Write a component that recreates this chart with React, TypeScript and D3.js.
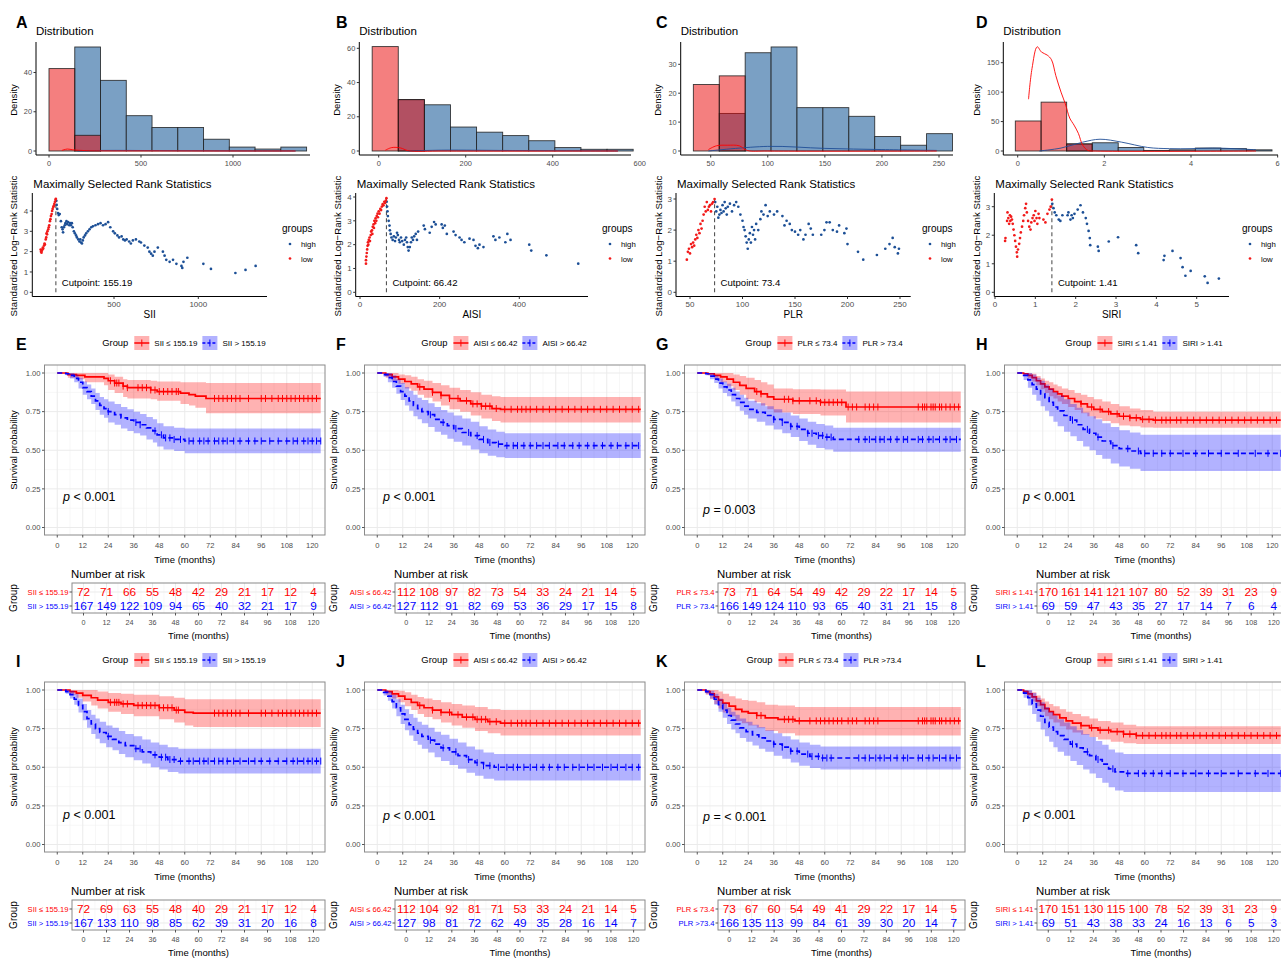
import * as d3 from 'd3';
import React from 'react';

const FONT = '"Liberation Sans", Arial, Helvetica, sans-serif';
const TICK_TXT = '#4d4d4d';
const RED = '#ff0000';
const BLUE = '#0000ff';
const HIGH_DOT = '#1c4f96';
const LOW_DOT = '#f21a1a';
const HIST_BLUE = '#7aa0c4';

// ---- top row: distributions ----
const siiBreaks = [0, 140, 280, 420, 560, 700, 840, 980, 1120, 1260, 1400];
const siiHistLow = [42, 8, 0, 0, 0, 0, 0, 0, 0, 0];
const siiHistHigh = [0, 53, 36, 18, 12, 12, 6, 2, 1, 2];
const siiDensLow = [[70, 0.3], [100, 1], [130, 0.6], [200, 0.2], [600, 0.05], [1340, 0]];
const siiDensHigh = [[155, 0], [300, 0.3], [600, 0.2], [1000, 0.05], [1340, 0]];

const aisiBreaks = [-15, 45, 105, 165, 225, 285, 345, 405, 465, 525, 585];
const aisiHistLow = [61, 30, 0, 0, 0, 0, 0, 0, 0, 0];
const aisiHistHigh = [0, 30, 27, 14, 11, 9, 6, 2, 1, 1];
const aisiDensLow = [[15, 0.4], [30, 2], [50, 1.8], [68, 0.2], [150, 0], [550, 0]];
const aisiDensHigh = [[66, 0], [150, 0.5], [300, 0.3], [550, 0]];

const plrBreaks = [34.8, 57.5, 80.2, 102.9, 125.6, 148.3, 171, 193.7, 216.4, 239.1, 261.8];
const plrHistLow = [23, 26, 0, 0, 0, 0, 0, 0, 0, 0];
const plrHistHigh = [0, 13, 34, 36, 15, 15, 12, 5, 2, 6];
const plrDensLow = [[48, 0.5], [55, 1.8], [65, 2], [75, 1.8], [82, 0.2], [100, 0], [248, 0]];
const plrDensHigh = [[48, 0], [100, 1.6], [150, 0.9], [200, 0.5], [248, 0.2]];

const siriBreaks = [-0.055, 0.54, 1.13, 1.72, 2.32, 2.91, 3.5, 4.1, 4.69, 5.28, 5.87];
const siriHistLow = [51, 83, 12, 0, 0, 0, 0, 0, 0, 0];
const siriHistHigh = [0, 0, 12, 14, 6, 1, 2, 5, 4, 2];
const siriDensLow = [[0.25, 88], [0.33, 140], [0.45, 177], [0.55, 168], [0.68, 163], [0.78, 155], [0.88, 128], [1.0, 100], [1.1, 80], [1.2, 56], [1.3, 44], [1.4, 30], [1.5, 10], [1.62, 1], [1.8, 0], [5.5, 0]];
const siriDensHigh = [[0.5, 0], [1.0, 5], [1.5, 15], [1.9, 20], [2.4, 15], [3.0, 6], [3.5, 4], [4.0, 4], [4.5, 5], [5.0, 4], [5.5, 2]];

// ---- top row: maximally selected rank statistics ----
const siiStatLow = [[65, 2.1], [67, 2.0], [70, 1.95], [72, 2.05], [75, 2.1], [78, 2.2], [80, 2.15], [85, 2.3], [88, 2.4], [90, 2.35], [95, 2.6], [98, 2.7], [100, 2.9], [103, 2.85], [105, 3.0], [110, 3.1], [113, 3.2], [116, 3.3], [120, 3.5], [123, 3.6], [126, 3.75], [130, 3.85], [133, 4.0], [136, 4.1], [140, 4.2], [143, 4.25], [146, 4.35], [150, 4.45], [153, 4.55], [155, 4.6]];
const siiStatHigh = [[158, 4.5], [160, 4.3], [163, 4.1], [168, 3.9], [172, 3.8], [178, 3.85], [185, 3.5], [190, 3.2], [195, 3.1], [198, 2.95], [203, 3.2], [208, 3.3], [212, 3.4], [218, 3.5], [222, 3.35], [228, 3.45], [235, 3.3], [240, 3.4], [245, 3.3], [250, 3.4], [255, 3.2], [262, 3.0], [268, 2.9], [275, 2.8], [280, 2.7], [288, 2.6], [295, 2.5], [300, 2.6], [305, 2.45], [310, 2.4], [315, 2.55], [320, 2.7], [328, 2.8], [335, 2.9], [345, 3.0], [355, 3.1], [365, 3.2], [375, 3.25], [390, 3.3], [405, 3.35], [420, 3.4], [435, 3.3], [450, 3.35], [465, 3.45], [478, 3.2], [495, 3.0], [505, 2.9], [520, 2.8], [530, 2.7], [545, 2.75], [555, 2.6], [565, 2.55], [575, 2.6], [590, 2.5], [600, 2.4], [612, 2.55], [630, 2.6], [650, 2.5], [660, 2.45], [680, 2.3], [700, 2.2], [710, 2.0], [720, 1.9], [730, 1.8], [740, 2.0], [760, 2.2], [790, 2.0], [800, 1.8], [810, 1.6], [830, 1.5], [850, 1.6], [870, 1.4], [900, 1.3], [905, 1.2], [912, 1.5], [935, 1.7], [1030, 1.4], [1075, 1.15], [1220, 0.95], [1280, 1.1], [1340, 1.3]];

const aisiStatLow = [[15, 1.2], [15, 1.35], [16, 1.5], [17, 1.65], [18, 1.8], [19, 1.95], [20, 2.1], [21, 2.0], [22, 2.2], [24, 2.3], [25, 2.15], [27, 2.4], [28, 2.55], [30, 2.6], [31, 2.45], [32, 2.75], [34, 2.85], [35, 2.7], [36, 3.0], [38, 2.9], [39, 3.1], [41, 3.0], [42, 3.2], [44, 3.3], [45, 3.15], [47, 3.4], [49, 3.3], [51, 3.5], [53, 3.45], [55, 3.6], [57, 3.7], [59, 3.65], [61, 3.8], [63, 3.75], [65, 3.85], [66.4, 3.95]];
const aisiStatHigh = [[67, 3.8], [68, 3.6], [69, 3.4], [70, 3.2], [72, 3.0], [74, 2.8], [75, 2.6], [77, 2.45], [79, 2.3], [82, 2.2], [85, 2.35], [88, 2.15], [90, 2.3], [93, 2.5], [95, 2.4], [98, 2.2], [100, 2.1], [103, 2.3], [106, 2.15], [110, 2.0], [113, 2.2], [116, 2.3], [118, 2.1], [120, 1.9], [122, 1.75], [125, 1.9], [128, 2.1], [130, 2.3], [133, 2.2], [136, 2.35], [140, 2.45], [143, 2.2], [146, 2.55], [160, 2.8], [163, 2.65], [175, 2.5], [180, 2.75], [186, 2.95], [190, 2.85], [205, 2.85], [208, 2.7], [213, 2.8], [218, 2.45], [235, 2.55], [240, 2.4], [250, 2.3], [255, 2.2], [262, 2.1], [275, 2.25], [285, 2.2], [290, 1.95], [296, 1.85], [300, 2.0], [310, 1.9], [335, 2.35], [340, 2.2], [350, 2.3], [365, 2.1], [370, 2.45], [378, 2.2], [425, 2.0], [430, 1.75], [468, 1.55], [548, 1.2]];

const plrStatLow = [[47, 1.05], [48, 1.3], [49, 1.4], [50, 1.25], [51, 1.55], [52, 1.45], [53, 1.6], [54, 1.5], [55, 1.7], [56, 1.85], [57, 1.75], [58, 2.0], [59, 1.9], [60, 2.2], [61, 2.05], [62, 2.3], [63, 2.5], [64, 2.75], [65, 2.6], [66, 2.9], [67, 2.65], [68, 2.75], [69, 2.8], [70, 2.6], [71, 2.85], [72, 2.9], [73.4, 3.0]];
const plrStatHigh = [[74, 2.9], [75, 2.6], [76, 2.75], [77, 2.4], [78, 2.5], [79, 2.65], [80, 2.55], [81, 2.8], [82, 2.6], [83, 2.9], [84, 2.7], [85, 2.5], [86, 2.75], [88, 2.85], [90, 2.6], [92, 2.8], [94, 2.9], [96, 2.75], [98, 2.5], [100, 2.3], [101, 2.1], [102, 2.0], [103, 1.8], [104, 1.6], [105, 1.4], [106, 1.7], [107, 1.9], [108, 1.6], [109, 2.1], [110, 1.85], [111, 2.0], [112, 1.7], [113, 2.2], [115, 2.0], [117, 2.35], [118, 2.6], [120, 2.5], [122, 2.8], [124, 2.45], [126, 2.6], [130, 2.5], [133, 2.6], [138, 2.45], [140, 2.15], [142, 2.3], [145, 2.2], [147, 2.0], [150, 1.95], [153, 1.85], [155, 2.0], [158, 1.7], [160, 1.85], [163, 2.2], [165, 2.05], [167, 1.85], [175, 1.85], [178, 2.0], [180, 2.25], [183, 2.25], [186, 2.0], [190, 1.95], [192, 2.15], [197, 1.9], [199, 2.05], [200, 1.55], [210, 1.3], [215, 1.05], [228, 1.2], [236, 1.4], [240, 1.55], [243, 1.75], [245, 1.45], [248, 1.25], [249, 1.4]];

const siriStatLow = [[0.25, 1.8], [0.26, 1.9], [0.3, 2.5], [0.31, 2.8], [0.33, 2.6], [0.35, 2.4], [0.37, 2.7], [0.38, 2.5], [0.4, 2.65], [0.42, 2.55], [0.44, 2.4], [0.46, 2.2], [0.48, 2.0], [0.5, 1.8], [0.52, 1.6], [0.54, 1.4], [0.55, 1.25], [0.57, 1.5], [0.6, 1.7], [0.62, 1.9], [0.64, 2.1], [0.67, 2.3], [0.7, 2.5], [0.72, 2.7], [0.75, 2.95], [0.77, 3.1], [0.79, 2.8], [0.82, 2.5], [0.85, 2.3], [0.88, 2.2], [0.9, 2.45], [0.93, 2.6], [0.96, 2.7], [0.98, 2.5], [1.0, 2.85], [1.03, 2.6], [1.05, 2.4], [1.08, 2.75], [1.1, 2.6], [1.2, 2.55], [1.25, 2.45], [1.3, 2.75], [1.35, 2.9], [1.38, 3.0], [1.41, 3.25]];
const siriStatHigh = [[1.42, 3.1], [1.45, 2.95], [1.48, 2.8], [1.52, 2.7], [1.58, 2.55], [1.62, 2.5], [1.67, 2.7], [1.8, 2.7], [1.82, 2.8], [1.87, 2.55], [1.9, 2.7], [1.93, 2.6], [1.97, 2.75], [2.05, 2.9], [2.12, 3.05], [2.18, 2.8], [2.25, 2.6], [2.28, 2.4], [2.32, 2.15], [2.35, 1.9], [2.36, 1.65], [2.55, 1.6], [2.57, 1.45], [2.82, 1.78], [3.05, 1.93], [3.5, 1.65], [3.55, 1.37], [4.18, 1.13], [4.2, 1.28], [4.4, 1.45], [4.6, 1.2], [4.65, 0.88], [4.72, 0.58], [4.85, 0.75], [5.2, 0.56], [5.27, 0.33], [5.55, 0.48]];

// ---- Kaplan-Meier curves: [time, surv, lower, upper] ----
const kmE_low = [[0, 1, 1, 1], [5, 0.99, 0.97, 1], [9, 0.985, 0.96, 1], [13, 0.975, 0.94, 1], [22, 0.965, 0.92, 1], [24, 0.95, 0.89, 0.99], [27, 0.935, 0.87, 0.975], [31, 0.915, 0.845, 0.96], [33, 0.905, 0.835, 0.955], [44, 0.89, 0.83, 0.95], [47, 0.88, 0.82, 0.945], [58, 0.87, 0.8, 0.94], [62, 0.86, 0.79, 0.94], [65, 0.85, 0.775, 0.94], [70, 0.835, 0.74, 0.935]];
const kmE_high = [[0, 1, 1, 1], [4, 0.995, 0.985, 1], [6, 0.985, 0.965, 1], [8, 0.965, 0.94, 0.99], [10, 0.94, 0.9, 0.97], [12, 0.905, 0.86, 0.945], [14, 0.88, 0.83, 0.925], [16, 0.85, 0.8, 0.9], [18, 0.82, 0.76, 0.87], [20, 0.79, 0.73, 0.845], [22, 0.77, 0.71, 0.83], [24, 0.75, 0.68, 0.815], [27, 0.73, 0.665, 0.8], [30, 0.71, 0.64, 0.78], [33, 0.695, 0.625, 0.765], [36, 0.68, 0.61, 0.75], [39, 0.665, 0.595, 0.735], [42, 0.645, 0.57, 0.715], [45, 0.625, 0.55, 0.7], [47, 0.6, 0.525, 0.675], [50, 0.58, 0.505, 0.655], [55, 0.57, 0.495, 0.645], [60, 0.56, 0.48, 0.64]];
const kmF_low = [[0, 1, 1, 1], [4, 0.99, 0.97, 1], [7, 0.975, 0.95, 1], [10, 0.96, 0.93, 0.99], [13, 0.945, 0.9, 0.985], [16, 0.93, 0.885, 0.975], [19, 0.91, 0.86, 0.96], [22, 0.895, 0.84, 0.95], [26, 0.875, 0.815, 0.935], [30, 0.855, 0.79, 0.92], [34, 0.835, 0.765, 0.905], [39, 0.82, 0.75, 0.89], [44, 0.8, 0.725, 0.875], [49, 0.785, 0.705, 0.86], [54, 0.77, 0.69, 0.85], [58, 0.765, 0.68, 0.845]];
const kmF_high = [[0, 1, 1, 1], [3, 0.99, 0.975, 1], [5, 0.97, 0.94, 1], [7, 0.945, 0.905, 0.985], [9, 0.915, 0.865, 0.96], [11, 0.88, 0.825, 0.935], [13, 0.85, 0.79, 0.91], [15, 0.82, 0.755, 0.885], [17, 0.79, 0.72, 0.86], [19, 0.77, 0.7, 0.84], [21, 0.75, 0.675, 0.825], [24, 0.73, 0.65, 0.805], [27, 0.7, 0.62, 0.78], [30, 0.68, 0.6, 0.76], [33, 0.66, 0.575, 0.745], [36, 0.64, 0.555, 0.725], [40, 0.615, 0.53, 0.705], [44, 0.595, 0.505, 0.685], [48, 0.57, 0.48, 0.655], [52, 0.55, 0.465, 0.635], [56, 0.54, 0.455, 0.62], [60, 0.53, 0.45, 0.61]];
const kmG_low = [[0, 1, 1, 1], [5, 0.995, 0.985, 1], [8, 0.985, 0.96, 1], [11, 0.975, 0.94, 1], [14, 0.96, 0.915, 1], [17, 0.94, 0.89, 0.99], [20, 0.92, 0.86, 0.98], [23, 0.9, 0.83, 0.97], [27, 0.88, 0.81, 0.955], [30, 0.865, 0.79, 0.94], [33, 0.845, 0.765, 0.925], [36, 0.83, 0.745, 0.9], [45, 0.82, 0.735, 0.895], [58, 0.81, 0.725, 0.893], [70, 0.78, 0.68, 0.88]];
const kmG_high = [[0, 1, 1, 1], [4, 0.995, 0.985, 1], [6, 0.98, 0.96, 1], [8, 0.96, 0.935, 0.985], [10, 0.935, 0.9, 0.965], [12, 0.91, 0.87, 0.945], [14, 0.89, 0.85, 0.93], [16, 0.86, 0.815, 0.905], [18, 0.835, 0.785, 0.88], [20, 0.81, 0.755, 0.86], [22, 0.785, 0.73, 0.84], [24, 0.765, 0.705, 0.82], [28, 0.745, 0.685, 0.805], [32, 0.725, 0.66, 0.785], [36, 0.7, 0.635, 0.765], [40, 0.68, 0.61, 0.745], [44, 0.655, 0.585, 0.725], [48, 0.635, 0.56, 0.705], [52, 0.61, 0.535, 0.685], [56, 0.595, 0.515, 0.67], [60, 0.585, 0.505, 0.66], [64, 0.57, 0.49, 0.645]];
const kmH_low = [[0, 1, 1, 1], [3, 0.995, 0.985, 1], [5, 0.985, 0.965, 1], [7, 0.97, 0.945, 0.995], [9, 0.95, 0.92, 0.98], [11, 0.93, 0.895, 0.965], [13, 0.91, 0.87, 0.95], [15, 0.895, 0.85, 0.94], [17, 0.88, 0.835, 0.925], [19, 0.865, 0.815, 0.915], [21, 0.85, 0.8, 0.9], [24, 0.835, 0.78, 0.89], [27, 0.815, 0.76, 0.87], [30, 0.8, 0.74, 0.86], [33, 0.78, 0.72, 0.845], [36, 0.765, 0.705, 0.83], [40, 0.75, 0.69, 0.815], [44, 0.735, 0.675, 0.8], [48, 0.72, 0.66, 0.785], [53, 0.71, 0.655, 0.77], [58, 0.7, 0.648, 0.76], [64, 0.695, 0.645, 0.75]];
const kmH_high = [[0, 1, 1, 1], [3, 0.985, 0.955, 1], [5, 0.955, 0.905, 1], [7, 0.925, 0.86, 0.99], [9, 0.895, 0.82, 0.97], [11, 0.865, 0.785, 0.95], [13, 0.84, 0.755, 0.925], [15, 0.81, 0.72, 0.9], [17, 0.78, 0.685, 0.875], [19, 0.755, 0.655, 0.855], [22, 0.725, 0.62, 0.83], [25, 0.695, 0.59, 0.8], [28, 0.665, 0.56, 0.775], [31, 0.635, 0.525, 0.745], [34, 0.61, 0.5, 0.72], [37, 0.585, 0.47, 0.7], [40, 0.56, 0.445, 0.675], [44, 0.53, 0.415, 0.65], [48, 0.51, 0.395, 0.63], [53, 0.495, 0.38, 0.615], [58, 0.48, 0.365, 0.6]];
const kmI_low = [[0, 1, 1, 1], [6, 0.99, 0.97, 1], [9, 0.98, 0.95, 1], [12, 0.965, 0.925, 1], [16, 0.95, 0.9, 1], [19, 0.935, 0.88, 0.99], [24, 0.92, 0.86, 0.98], [30, 0.91, 0.845, 0.975], [36, 0.9, 0.83, 0.97], [48, 0.885, 0.81, 0.96], [55, 0.87, 0.79, 0.95], [60, 0.855, 0.77, 0.94], [64, 0.85, 0.76, 0.94]];
const kmI_high = [[0, 1, 1, 1], [4, 0.99, 0.975, 1], [6, 0.97, 0.945, 0.995], [8, 0.94, 0.905, 0.975], [10, 0.9, 0.855, 0.945], [12, 0.86, 0.805, 0.91], [14, 0.815, 0.755, 0.87], [16, 0.78, 0.715, 0.84], [18, 0.75, 0.685, 0.815], [20, 0.725, 0.655, 0.795], [23, 0.7, 0.63, 0.77], [26, 0.68, 0.61, 0.755], [29, 0.66, 0.585, 0.735], [32, 0.64, 0.565, 0.715], [36, 0.62, 0.545, 0.7], [40, 0.6, 0.525, 0.68], [44, 0.58, 0.5, 0.66], [48, 0.565, 0.485, 0.645], [52, 0.55, 0.47, 0.63], [57, 0.54, 0.46, 0.62]];
const kmJ_low = [[0, 1, 1, 1], [4, 0.99, 0.97, 1], [7, 0.975, 0.945, 1], [10, 0.96, 0.92, 0.995], [13, 0.94, 0.895, 0.985], [16, 0.92, 0.87, 0.97], [19, 0.9, 0.845, 0.955], [22, 0.885, 0.825, 0.945], [26, 0.87, 0.81, 0.935], [30, 0.855, 0.79, 0.92], [35, 0.84, 0.77, 0.91], [40, 0.825, 0.755, 0.9], [46, 0.81, 0.735, 0.89], [52, 0.795, 0.72, 0.875], [58, 0.785, 0.705, 0.87]];
const kmJ_high = [[0, 1, 1, 1], [3, 0.985, 0.965, 1], [5, 0.96, 0.93, 0.99], [7, 0.925, 0.88, 0.97], [9, 0.885, 0.83, 0.94], [11, 0.845, 0.78, 0.905], [13, 0.81, 0.74, 0.875], [15, 0.775, 0.705, 0.845], [17, 0.745, 0.67, 0.82], [19, 0.72, 0.645, 0.795], [21, 0.7, 0.62, 0.775], [24, 0.675, 0.595, 0.755], [27, 0.65, 0.565, 0.73], [30, 0.625, 0.54, 0.71], [34, 0.6, 0.515, 0.685], [38, 0.575, 0.49, 0.66], [42, 0.55, 0.465, 0.635], [46, 0.53, 0.445, 0.615], [50, 0.51, 0.425, 0.595], [55, 0.5, 0.415, 0.585]];
const kmK_low = [[0, 1, 1, 1], [4, 0.99, 0.97, 1], [6, 0.975, 0.94, 1], [8, 0.955, 0.91, 1], [10, 0.935, 0.88, 0.99], [12, 0.915, 0.855, 0.975], [15, 0.895, 0.83, 0.96], [18, 0.875, 0.8, 0.945], [21, 0.86, 0.785, 0.935], [24, 0.85, 0.77, 0.93], [28, 0.835, 0.755, 0.92], [32, 0.82, 0.735, 0.905], [38, 0.81, 0.72, 0.9], [46, 0.8, 0.705, 0.89]];
const kmK_high = [[0, 1, 1, 1], [4, 0.99, 0.975, 1], [6, 0.97, 0.945, 0.995], [8, 0.94, 0.905, 0.975], [10, 0.905, 0.86, 0.945], [12, 0.87, 0.82, 0.915], [14, 0.835, 0.78, 0.885], [16, 0.805, 0.745, 0.86], [18, 0.78, 0.72, 0.84], [20, 0.755, 0.69, 0.815], [23, 0.73, 0.665, 0.795], [26, 0.71, 0.64, 0.775], [29, 0.69, 0.62, 0.76], [32, 0.67, 0.6, 0.74], [36, 0.65, 0.575, 0.72], [40, 0.63, 0.555, 0.7], [44, 0.605, 0.53, 0.68], [48, 0.585, 0.51, 0.66], [53, 0.57, 0.495, 0.645], [58, 0.56, 0.485, 0.635]];
const kmL_low = [[0, 1, 1, 1], [3, 0.99, 0.975, 1], [5, 0.975, 0.95, 0.995], [7, 0.955, 0.925, 0.985], [9, 0.93, 0.895, 0.965], [11, 0.905, 0.86, 0.945], [13, 0.88, 0.83, 0.925], [15, 0.86, 0.81, 0.91], [17, 0.84, 0.79, 0.895], [20, 0.82, 0.765, 0.875], [23, 0.8, 0.745, 0.86], [26, 0.785, 0.725, 0.845], [30, 0.77, 0.71, 0.83], [34, 0.755, 0.695, 0.815], [38, 0.74, 0.68, 0.8], [44, 0.73, 0.665, 0.79], [50, 0.715, 0.655, 0.775], [56, 0.705, 0.65, 0.765]];
const kmL_high = [[0, 1, 1, 1], [3, 0.98, 0.95, 1], [5, 0.95, 0.9, 1], [7, 0.91, 0.845, 0.98], [9, 0.87, 0.795, 0.95], [11, 0.83, 0.745, 0.92], [13, 0.79, 0.7, 0.89], [15, 0.76, 0.665, 0.86], [17, 0.73, 0.63, 0.835], [19, 0.705, 0.6, 0.81], [22, 0.68, 0.575, 0.79], [25, 0.65, 0.54, 0.765], [28, 0.625, 0.515, 0.74], [31, 0.6, 0.485, 0.715], [34, 0.575, 0.46, 0.695], [37, 0.55, 0.43, 0.67], [40, 0.52, 0.4, 0.645], [43, 0.49, 0.37, 0.615], [46, 0.47, 0.35, 0.595], [50, 0.46, 0.34, 0.585]];

// censoring times (months)
const siiLowCens = [25, 27, 28, 29, 31, 33, 38, 40, 42, 44, 46, 48, 50, 52, 54, 56, 57, 74, 76, 78, 80, 82, 84, 86, 90, 96, 98, 101, 104, 106, 108, 110, 112, 114, 116, 118, 120, 122];
const siiHighCens = [24, 37, 39, 46, 49, 51, 53, 55, 58, 62, 64, 67, 69, 71, 74, 76, 78, 80, 83, 86, 90, 93, 96, 100, 104, 108, 111, 113, 116, 118, 120, 122, 124];
const aisiLowCens = [20, 26, 30, 34, 38, 42, 45, 47, 49, 51, 53, 56, 60, 63, 66, 68, 70, 72, 75, 78, 81, 84, 87, 90, 93, 96, 99, 102, 105, 108, 111, 114, 117, 120, 123];
const aisiHighCens = [25, 31, 37, 43, 47, 50, 53, 57, 61, 64, 66, 69, 72, 75, 78, 81, 85, 88, 92, 95, 99, 102, 106, 110, 113, 117, 120, 123];
const plrLowCens = [28, 30, 41, 43, 45, 48, 53, 56, 58, 60, 62, 64, 66, 68, 71, 73, 75, 79, 81, 83, 85, 104, 106, 107, 108, 110, 111, 112, 114, 115, 117, 119, 121, 123];
const plrHighCens = [36, 40, 44, 47, 52, 54, 57, 59, 61, 63, 76, 79, 81, 84, 86, 88, 91, 94, 97, 99, 104, 106, 109, 111, 114, 117, 119, 122];
const siriLowCens = [30, 35, 39, 43, 47, 50, 53, 56, 59, 62, 65, 68, 70, 72, 75, 77, 80, 83, 86, 89, 92, 95, 98, 101, 104, 107, 110, 113, 116, 119, 122];
const siriHighCens = [26, 33, 38, 45, 52, 57, 60, 64, 68, 72, 78, 84, 90, 96, 104, 112, 118, 124];

// numbers at risk
const riskTimes = [0, 12, 24, 36, 48, 60, 72, 84, 96, 108, 120];
const riskE_low = [72, 71, 66, 55, 48, 42, 29, 21, 17, 12, 4];
const riskE_high = [167, 149, 122, 109, 94, 65, 40, 32, 21, 17, 9];
const riskF_low = [112, 108, 97, 82, 73, 54, 33, 24, 21, 14, 5];
const riskF_high = [127, 112, 91, 82, 69, 53, 36, 29, 17, 15, 8];
const riskG_low = [73, 71, 64, 54, 49, 42, 29, 22, 17, 14, 5];
const riskG_high = [166, 149, 124, 110, 93, 65, 40, 31, 21, 15, 8];
const riskH_low = [170, 161, 141, 121, 107, 80, 52, 39, 31, 23, 9];
const riskH_high = [69, 59, 47, 43, 35, 27, 17, 14, 7, 6, 4];
const riskI_low = [72, 69, 63, 55, 48, 40, 29, 21, 17, 12, 4];
const riskI_high = [167, 133, 110, 98, 85, 62, 39, 31, 20, 16, 8];
const riskJ_low = [112, 104, 92, 81, 71, 53, 33, 24, 21, 14, 5];
const riskJ_high = [127, 98, 81, 72, 62, 49, 35, 28, 16, 14, 7];
const riskK_low = [73, 67, 60, 54, 49, 41, 29, 22, 17, 14, 5];
const riskK_high = [166, 135, 113, 99, 84, 61, 39, 30, 20, 14, 7];
const riskL_low = [170, 151, 130, 115, 100, 78, 52, 39, 31, 23, 9];
const riskL_high = [69, 51, 43, 38, 33, 24, 16, 13, 6, 5, 3];

const histPanels = [
  { id: 'A', col: 0, breaks: siiBreaks, low: siiHistLow, high: siiHistHigh, dLow: siiDensLow, dHigh: siiDensHigh, left: 36, right: 310, xRef: [0, 49, 1000, 233], yRef: [0, 151, 40, 72.5], xTicks: [0, 500, 1000], yTicks: [0, 20, 40], densX: 16.7 },
  { id: 'B', col: 1, breaks: aisiBreaks, low: aisiHistLow, high: aisiHistHigh, dLow: aisiDensLow, dHigh: aisiDensHigh, left: 359.3, right: 631, xRef: [0, 378.7, 400, 552.7], yRef: [0, 151, 60, 48.3], xTicks: [0, 200, 400, 600], yTicks: [0, 20, 40, 60], densX: 340 },
  { id: 'C', col: 2, breaks: plrBreaks, low: plrHistLow, high: plrHistHigh, dLow: plrDensLow, dHigh: plrDensHigh, left: 680.7, right: 953, xRef: [50, 710.7, 250, 939], yRef: [0, 151, 30, 64.3], xTicks: [50, 100, 150, 200, 250], yTicks: [0, 10, 20, 30], densX: 660.7 },
  { id: 'D', col: 3, breaks: siriBreaks, low: siriHistLow, high: siriHistHigh, dLow: siriDensLow, dHigh: siriDensHigh, left: 1003.3, right: 1278, xRef: [0, 1017.7, 4, 1191], yRef: [0, 151, 150, 62.7], xTicks: [0, 2, 4, 6], yTicks: [0, 50, 100, 150], densX: 980 },
];

const statPanels = [
  { col: 0, name: 'SII', low: siiStatLow, high: siiStatHigh, cut: 155.19, left: 32.3, right: 267, xRef: [500, 114, 1000, 198.3], yRef: [0, 292.3, 4, 211], xTicks: [500, 1000], yTicks: [0, 1, 2, 3, 4], labX: 17 },
  { col: 1, name: 'AISI', low: aisiStatLow, high: aisiStatHigh, cut: 66.42, left: 355.7, right: 588, xRef: [0, 360, 400, 519.3], yRef: [0, 292.3, 4, 197], xTicks: [0, 200, 400], yTicks: [0, 1, 2, 3, 4], labX: 340.7 },
  { col: 2, name: 'PLR', low: plrStatLow, high: plrStatHigh, cut: 73.4, left: 676, right: 910.7, xRef: [50, 690, 250, 900], yRef: [0, 292.3, 3, 199], xTicks: [50, 100, 150, 200, 250], yTicks: [0, 1, 2, 3], labX: 661.7 },
  { col: 3, name: 'SIRI', low: siriStatLow, high: siriStatHigh, cut: 1.41, left: 994.3, right: 1229, xRef: [0, 995, 5, 1196.7], yRef: [0, 292.3, 3, 206.7], xTicks: [0, 1, 2, 3, 4, 5], yTicks: [0, 1, 2, 3], labX: 980 },
];

const kmPanels = [
  { id: 'E', col: 0, row: 0, low: kmE_low, high: kmE_high, lc: siiLowCens, hc: siiHighCens, lowLab: 'SII ≤ 155.19', highLab: 'SII > 155.19', p: ' < 0.001', pY: 171, tLeft: 72, rLow: riskE_low, rHigh: riskE_high },
  { id: 'F', col: 1, row: 0, low: kmF_low, high: kmF_high, lc: aisiLowCens, hc: aisiHighCens, lowLab: 'AISI ≤ 66.42', highLab: 'AISI > 66.42', p: ' < 0.001', pY: 171, tLeft: 75, rLow: riskF_low, rHigh: riskF_high },
  { id: 'G', col: 2, row: 0, low: kmG_low, high: kmG_high, lc: plrLowCens, hc: plrHighCens, lowLab: 'PLR ≤ 73.4', highLab: 'PLR > 73.4', p: ' = 0.003', pY: 184, tLeft: 78, rLow: riskG_low, rHigh: riskG_high },
  { id: 'H', col: 3, row: 0, low: kmH_low, high: kmH_high, lc: siriLowCens, hc: siriHighCens, lowLab: 'SIRI ≤ 1.41', highLab: 'SIRI > 1.41', p: ' < 0.001', pY: 171, tLeft: 77, rLow: riskH_low, rHigh: riskH_high },
  { id: 'I', col: 0, row: 1, low: kmI_low, high: kmI_high, lc: siiLowCens, hc: siiHighCens, lowLab: 'SII ≤ 155.19', highLab: 'SII > 155.19', p: ' < 0.001', pY: 172, tLeft: 72, rLow: riskI_low, rHigh: riskI_high },
  { id: 'J', col: 1, row: 1, low: kmJ_low, high: kmJ_high, lc: aisiLowCens, hc: aisiHighCens, lowLab: 'AISI ≤ 66.42', highLab: 'AISI > 66.42', p: ' < 0.001', pY: 173, tLeft: 75, rLow: riskJ_low, rHigh: riskJ_high },
  { id: 'K', col: 2, row: 1, low: kmK_low, high: kmK_high, lc: plrLowCens, hc: plrHighCens, lowLab: 'PLR ≤ 73.4', highLab: 'PLR >73.4', p: ' = < 0.001', pY: 174, tLeft: 78, rLow: riskK_low, rHigh: riskK_high },
  { id: 'L', col: 3, row: 1, low: kmL_low, high: kmL_high, lc: siriLowCens, hc: siriHighCens, lowLab: 'SIRI ≤ 1.41', highLab: 'SIRI > 1.41', p: ' < 0.001', pY: 172, tLeft: 77, rLow: riskL_low, rHigh: riskL_high },
];

const lin = (v0, p0, v1, p1) => d3.scaleLinear().domain([v0, v1]).range([p0, p1]);

let ctx: any = null;
function textW(s: string, size: number) {
  if (!ctx) ctx = document.createElement('canvas').getContext('2d');
  ctx.font = `${size}px ${FONT}`;
  return ctx.measureText(s).width;
}

function HistPanel({ c }) {
  const x = lin(c.xRef[0], c.xRef[1], c.xRef[2], c.xRef[3]);
  const y = lin(c.yRef[0], c.yRef[1], c.yRef[2], c.yRef[3]);
  const ox = c.col * 320;
  const line = d3.line<number[]>().x(d => x(d[0])).y(d => y(d[1])).curve(d3.curveCatmullRom);
  const bars = (counts, fill, op) => counts.map((n, i) => n > 0 ? (
    <rect key={i} x={x(c.breaks[i])} y={y(n)} width={x(c.breaks[i + 1]) - x(c.breaks[i])} height={y(0) - y(n)}
      fill={fill} fillOpacity={op} stroke="#1a1a1a" strokeOpacity={0.85} strokeWidth={0.9} />) : null);
  const top = 42, bottom = 155;
  return (
    <g>
      <text x={ox + 16} y={28} fontSize={16} fontWeight="bold">{c.id}</text>
      <text x={c.left} y={34.5} fontSize={11.5}>Distribution</text>
      <text transform={`translate(${c.densX},100) rotate(-90)`} textAnchor="middle" fontSize={9.5}>Density</text>
      {bars(c.high, HIST_BLUE, 1)}
      {bars(c.low, '#e90000', 0.5)}
      <path d={line(c.dHigh) || ''} fill="none" stroke="#1f4e96" strokeWidth={0.9} />
      <path d={line(c.dLow) || ''} fill="none" stroke="#ff0000" strokeWidth={0.9} />
      <line x1={c.left} x2={c.left} y1={top} y2={bottom} stroke="#000" strokeWidth={1} />
      <line x1={c.left} x2={c.right} y1={bottom} y2={bottom} stroke="#000" strokeWidth={1} />
      {c.yTicks.map(t => (
        <g key={t}>
          <line x1={c.left - 2.5} x2={c.left} y1={y(t)} y2={y(t)} stroke="#333" />
          <text x={c.left - 4} y={y(t)} dy="0.35em" textAnchor="end" fontSize={7.4} fill={TICK_TXT}>{t}</text>
        </g>
      ))}
      {c.xTicks.map(t => (
        <g key={t}>
          {x(t) <= c.right && <line x1={x(t)} x2={x(t)} y1={bottom} y2={bottom + 2.5} stroke="#333" />}
          <text x={x(t)} y={bottom + 10.5} textAnchor="middle" fontSize={7.4} fill={TICK_TXT}>{t}</text>
        </g>
      ))}
    </g>
  );
}

function StatPanel({ c }) {
  const x = lin(c.xRef[0], c.xRef[1], c.xRef[2], c.xRef[3]);
  const y = lin(c.yRef[0], c.yRef[1], c.yRef[2], c.yRef[3]);
  const ox = c.col * 320;
  const top = 193, bottom = 296.5;
  const peak = d3.max(c.low, d => d[1]) as number;
  return (
    <g>
      <text x={c.left + 1} y={187.5} fontSize={11.5}>Maximally Selected Rank Statistics</text>
      <text transform={`translate(${c.labX},246) rotate(-90)`} textAnchor="middle" fontSize={9.7}>Standardized Log−Rank Statistic</text>
      <line x1={x(c.cut)} x2={x(c.cut)} y1={y(0)} y2={y(peak)} stroke="#555" strokeWidth={1.1} strokeDasharray="4,3" />
      {c.high.map((d, i) => <circle key={'h' + i} cx={x(d[0])} cy={y(d[1])} r={1.35} fill={HIGH_DOT} />)}
      {c.low.map((d, i) => <circle key={'l' + i} cx={x(d[0])} cy={y(d[1])} r={1.35} fill={LOW_DOT} />)}
      <text x={x(c.cut) + 6} y={285.5} fontSize={9.6}>{`Cutpoint: ${c.cut}`}</text>
      <line x1={c.left} x2={c.left} y1={top} y2={bottom} stroke="#000" />
      <line x1={c.left} x2={c.right} y1={bottom} y2={bottom} stroke="#000" />
      {c.yTicks.map(t => (
        <g key={t}>
          <line x1={c.left - 2.5} x2={c.left} y1={y(t)} y2={y(t)} stroke="#333" />
          <text x={c.left - 4} y={y(t)} dy="0.35em" textAnchor="end" fontSize={8} fill={TICK_TXT}>{t}</text>
        </g>
      ))}
      {c.xTicks.map(t => (
        <g key={t}>
          <line x1={x(t)} x2={x(t)} y1={bottom} y2={bottom + 2.5} stroke="#333" />
          <text x={x(t)} y={bottom + 10.5} textAnchor="middle" fontSize={8} fill={TICK_TXT}>{t}</text>
        </g>
      ))}
      <text x={(c.left + c.right) / 2} y={318} textAnchor="middle" fontSize={10}>{c.name}</text>
      <text x={ox + 282} y={231.5} fontSize={10}>groups</text>
      <circle cx={ox + 290} cy={244} r={1.35} fill={HIGH_DOT} />
      <text x={ox + 301} y={247} fontSize={7.8}>high</text>
      <circle cx={ox + 290} cy={258.5} r={1.35} fill={LOW_DOT} />
      <text x={ox + 301} y={261.5} fontSize={7.8}>low</text>
    </g>
  );
}

function LegendKey({ x, y, color, dashed }) {
  return (
    <g>
      <rect x={x} y={y - 7} width={15} height={14} fill={color} fillOpacity={0.3} />
      <line x1={x} x2={x + 15} y1={y} y2={y} stroke={color} strokeWidth={1.5} strokeDasharray={dashed ? '3,2' : undefined} />
      <line x1={x + 7.5} x2={x + 7.5} y1={y - 3.5} y2={y + 3.5} stroke={color} strokeWidth={1} />
    </g>
  );
}

function KMPanel({ c }) {
  const ox = c.col * 320;
  const oy = c.row === 0 ? 330 : 647;
  const L = ox + 44.5, R = ox + 325, T = oy + 35, B = oy + 205;
  const x = d3.scaleLinear().domain([-6, 126]).range([L, R]);
  const y = lin(0, oy + 197.5, 1, oy + 43);
  const tEnd = 124;
  const ext = rows => [...rows, [tEnd, ...rows[rows.length - 1].slice(1)]];
  const line = d3.line<number[]>().x(d => x(d[0])).y(d => y(d[1])).curve(d3.curveStepAfter);
  const area = d3.area<number[]>().x(d => x(d[0])).y0(d => y(d[2])).y1(d => y(d[3])).curve(d3.curveStepAfter);
  const sAt = (rows, t) => { let s = 1; for (const r of rows) if (r[0] <= t) s = r[1]; return s; };
  const majorX = riskTimes;
  const minorX = d3.range(6, 126, 12);
  const majorY = [0, 0.25, 0.5, 0.75, 1];
  const minorY = [0.125, 0.375, 0.625, 0.875];
  const fmt = d3.format('.2f');

  // legend layout
  const gW = textW('Group', 9.4), w1 = textW(c.lowLab, 8), w2 = textW(c.highLab, 8);
  const total = gW + 6 + 15 + 5 + w1 + 5 + 15 + 5 + w2;
  const lx = ox + 184 - total / 2, ly = oy + 13;
  const k1 = lx + gW + 6, t1 = k1 + 20, k2 = t1 + w1 + 5, t2 = k2 + 20;

  // risk table
  const tL = ox + c.tLeft, tR = ox + 325, tT = oy + 253, tB = oy + 283;
  const tx = d3.scaleLinear().domain([-6, 126]).range([tL, tR]);
  const r1 = oy + 262, r2 = oy + 276;

  const curve = (rows, cens, color, dashed) => (
    <g>
      <path d={area(ext(rows)) || ''} fill={color} fillOpacity={0.3} />
      <path d={line(ext(rows)) || ''} fill="none" stroke={color} strokeWidth={1.7} strokeDasharray={dashed ? '5,3' : undefined} />
      {cens.map((t, i) => {
        const s = sAt(rows, t);
        return <line key={i} x1={x(t)} x2={x(t)} y1={y(s) - 3.5} y2={y(s) + 3.5} stroke={color} strokeWidth={1} />;
      })}
    </g>
  );

  return (
    <g>
      <text x={ox + 16} y={oy + 19.5} fontSize={16} fontWeight="bold">{c.id}</text>
      {/* legend */}
      <text x={lx} y={ly} dy="0.35em" fontSize={9.4}>Group</text>
      <LegendKey x={k1} y={ly} color={RED} dashed={false} />
      <text x={t1} y={ly} dy="0.35em" fontSize={8}>{c.lowLab}</text>
      <LegendKey x={k2} y={ly} color={BLUE} dashed={true} />
      <text x={t2} y={ly} dy="0.35em" fontSize={8}>{c.highLab}</text>
      {/* panel */}
      <rect x={L} y={T} width={R - L} height={B - T} fill="#fff" />
      {minorX.map(t => <line key={'mx' + t} x1={x(t)} x2={x(t)} y1={T} y2={B} stroke="#f2f2f2" strokeWidth={0.6} />)}
      {minorY.map(t => <line key={'my' + t} x1={L} x2={R} y1={y(t)} y2={y(t)} stroke="#f2f2f2" strokeWidth={0.6} />)}
      {majorX.map(t => <line key={'gx' + t} x1={x(t)} x2={x(t)} y1={T} y2={B} stroke="#ebebeb" strokeWidth={1} />)}
      {majorY.map(t => <line key={'gy' + t} x1={L} x2={R} y1={y(t)} y2={y(t)} stroke="#ebebeb" strokeWidth={1} />)}
      {curve(c.low, c.lc, RED, false)}
      {curve(c.high, c.hc, BLUE, true)}
      <rect x={L} y={T} width={R - L} height={B - T} fill="none" stroke="#8a8a8a" strokeWidth={1} />
      <text x={ox + 63} y={oy + c.pY} fontSize={12.5}><tspan fontStyle="italic">p</tspan>{c.p}</text>
      {majorY.map(t => (
        <g key={'ty' + t}>
          <line x1={L - 2.5} x2={L} y1={y(t)} y2={y(t)} stroke="#555" />
          <text x={L - 4} y={y(t)} dy="0.35em" textAnchor="end" fontSize={7.6} fill={TICK_TXT}>{fmt(t)}</text>
        </g>
      ))}
      {majorX.map(t => (
        <g key={'tx' + t}>
          <line x1={x(t)} x2={x(t)} y1={B} y2={B + 2.5} stroke="#555" />
          <text x={x(t)} y={oy + 218} textAnchor="middle" fontSize={7.6} fill={TICK_TXT}>{t}</text>
        </g>
      ))}
      <text transform={`translate(${ox + 16.5},${oy + 120}) rotate(-90)`} textAnchor="middle" fontSize={9.5}>Survival probability</text>
      <text x={(L + R) / 2} y={oy + 233} textAnchor="middle" fontSize={9.5}>Time (months)</text>
      {/* risk table */}
      <text x={tL - 1} y={oy + 248} fontSize={11.4}>Number at risk</text>
      <rect x={tL} y={tT} width={tR - tL} height={tB - tT} fill="#fff" />
      {majorX.map(t => <line key={'rg' + t} x1={tx(t)} x2={tx(t)} y1={tT} y2={tB} stroke="#ebebeb" />)}
      {minorX.map(t => <line key={'rm' + t} x1={tx(t)} x2={tx(t)} y1={tT} y2={tB} stroke="#f4f4f4" strokeWidth={0.6} />)}
      <line x1={tL} x2={tR} y1={r1} y2={r1} stroke="#ebebeb" />
      <line x1={tL} x2={tR} y1={r2} y2={r2} stroke="#ebebeb" />
      {c.rLow.map((n, i) => <text key={'n1' + i} x={tx(riskTimes[i])} y={r1} dy="0.36em" textAnchor="middle" fontSize={11.8} fill={RED}>{n}</text>)}
      {c.rHigh.map((n, i) => <text key={'n2' + i} x={tx(riskTimes[i])} y={r2} dy="0.36em" textAnchor="middle" fontSize={11.8} fill={BLUE}>{n}</text>)}
      <rect x={tL} y={tT} width={tR - tL} height={tB - tT} fill="none" stroke="#8a8a8a" />
      <line x1={tL - 2.5} x2={tL} y1={r1} y2={r1} stroke="#555" />
      <line x1={tL - 2.5} x2={tL} y1={r2} y2={r2} stroke="#555" />
      <text x={tL - 3.5} y={r1} dy="0.35em" textAnchor="end" fontSize={7.6} fill={RED}>{c.lowLab}</text>
      <text x={tL - 3.5} y={r2} dy="0.35em" textAnchor="end" fontSize={7.6} fill={BLUE}>{c.highLab}</text>
      {majorX.map(t => (
        <g key={'rt' + t}>
          <line x1={tx(t)} x2={tx(t)} y1={tB} y2={tB + 2.5} stroke="#555" />
          <text x={tx(t)} y={oy + 295} textAnchor="middle" fontSize={7.2} fill={TICK_TXT}>{t}</text>
        </g>
      ))}
      <text transform={`translate(${ox + 17},${oy + 268}) rotate(-90)`} textAnchor="middle" fontSize={10}>Group</text>
      <text x={(tL + tR) / 2} y={oy + 309} textAnchor="middle" fontSize={9.5}>Time (months)</text>
    </g>
  );
}

export default function App() {
  return (
    <svg width={1281} height={961} style={{ position: 'absolute', left: 0, top: 0, background: '#fff' }}
      fontFamily={FONT}>
      <rect width={1281} height={961} fill="#fff" />
      {histPanels.map(c => <HistPanel key={c.id} c={c} />)}
      {statPanels.map(c => <StatPanel key={c.name} c={c} />)}
      {kmPanels.map(c => <KMPanel key={c.id} c={c} />)}
    </svg>
  );
}
